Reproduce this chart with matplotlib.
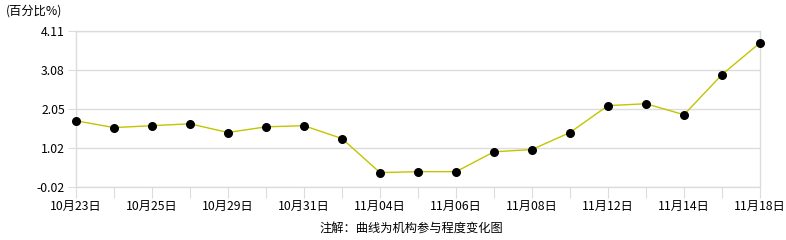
import matplotlib.pyplot as plt

plt.rcParams['font.family'] = ['Noto Sans CJK SC', 'DejaVu Sans']

# dates of each point, one label every second point
dates = ['10月23日', '10月24日', '10月25日', '10月28日', '10月29日', '10月30日',
         '10月31日', '11月01日', '11月04日', '11月05日', '11月06日', '11月07日',
         '11月08日', '11月11日', '11月12日', '11月13日', '11月14日', '11月15日',
         '11月18日']
values = [1.73, 1.55, 1.60, 1.65, 1.42, 1.57, 1.60, 1.26, 0.36, 0.385, 0.385,
          0.91, 0.97, 1.42, 2.13, 2.18, 1.89, 2.95, 3.79]
yticks = [-0.02, 1.02, 2.05, 3.08, 4.11]
ytick_labels = ['-0.02', '1.02', '2.05', '3.08', '4.11']

fig = plt.figure(figsize=(7.86, 2.4), dpi=100)
ax = fig.add_axes([76 / 786, 1 - 187 / 240, (760 - 76) / 786, (187 - 30.7) / 240])

x = list(range(len(values)))
ax.plot(x, values, color='#c4c400', linewidth=1, zorder=3, clip_on=False)
ax.scatter(x, values, color='black', s=30, zorder=4, clip_on=False)

ax.set_xlim(0, len(values) - 1)
ax.set_ylim(yticks[0], yticks[-1])

ax.set_yticks(yticks)
ax.set_yticklabels(ytick_labels)
ax.set_xticks(x)
ax.set_xticklabels([d if i % 2 == 0 else '' for i, d in enumerate(dates)])

grid_col = '#dcdcdc'
ax.grid(axis='y', color=grid_col, linewidth=1)
for s in ax.spines.values():
    s.set_color(grid_col)
    s.set_linewidth(1)

ax.tick_params(axis='x', length=8, color=grid_col, pad=1, labelsize=8.8)
ax.tick_params(axis='y', length=6, color=grid_col, pad=2, labelsize=8.8)

fig.text(6 / 786, 1 - 11 / 240, '(百分比%)', fontsize=8.8, va='center', ha='left')
fig.text(411 / 786, 1 - 228 / 240, '注解：曲线为机构参与程度变化图', fontsize=8.8,
         va='center', ha='center')

fig.savefig('out.png', dpi=100)
